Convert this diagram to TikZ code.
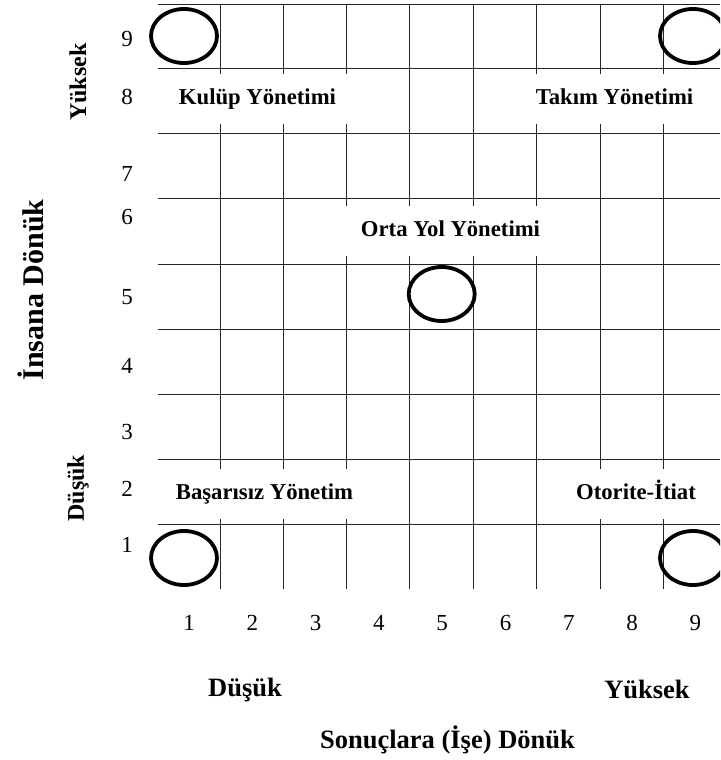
\documentclass[tikz,border=0pt]{standalone}
\usepackage{fontspec}
\setmainfont{Liberation Serif}
\usepackage{tikz}
\usetikzlibrary{positioning,shapes.geometric}

\begin{document}
\begin{tikzpicture}[
    x=1pt, y=-1pt,
    gridline/.style={line width=1.1pt, draw=black!85},
    label/.style={fill=white, inner xsep=20pt, inner ysep=0pt, text height=15pt, text depth=5pt,
                  minimum height=50pt, font=\fontsize{22.7}{27}\selectfont\bfseries},
    axis/.style={font=\fontsize{26.5}{31}\selectfont\bfseries},
    number/.style={font=\fontsize{23}{27}\selectfont},
    spot/.style={draw, ellipse, line width=3.8pt, minimum width=66pt, minimum height=54pt}
]
\clip (0,0) rectangle (720,760);

% Grid
\foreach \y in {4.5,68.5,133.5,198.5,264.5,329.5,394.5,459.5,524.5}
  \draw[gridline] (158,\y) -- (720,\y);
\foreach \x in {220.5,283.5,346.5,409.5,473.5,536.5,600.5,663.5}
  \draw[gridline] (\x,4.5) -- (\x,589);

% Styles of management
\node[label] (kulup) at (257.5,99) {Kulüp Yönetimi};
\node[label] (takim) at (614.5,99) {Takım Yönetimi};
\node[label] (orta) at (450.5,231) {Orta Yol Yönetimi};
\node[label] (basarisiz) at (264.5,494) {Başarısız Yönetim};
\node[label] (otorite) at (636,494) {Otorite-İtiat};

% Corner and centre points
\node[spot] (c19) at (184,36) {};
\node[spot] (c99) at (693,36) {};
\node[spot] (c55) at (441.7,294) {};
\node[spot] (c11) at (184,558) {};
\node[spot] (c91) at (693,558) {};

% Row numbers
\node[number] (r9) at (127,39) {9};
\node[number] (r8) at (127,97) {8};
\node[number] (r7) at (127,174) {7};
\node[number] (r6) at (127,217) {6};
\node[number] (r5) at (127,297) {5};
\node[number] (r4) at (127,366) {4};
\node[number] (r3) at (127,432) {3};
\node[number] (r2) at (127,489) {2};
\node[number] (r1) at (127,545) {1};

% Column numbers
\foreach \k in {1,...,9}
  \node[number] (col\k) at ({189+63.3*(\k-1)},623) {\k};

% Axis titles
\node[axis, rotate=90, font=\fontsize{24}{29}\selectfont\bfseries] (yhigh) at (78,82) {Yüksek};
\node[axis, rotate=90, font=\fontsize{24}{29}\selectfont\bfseries] (ylow) at (78,488) {Düşük};
\node[axis, rotate=90, font=\fontsize{30}{36}\selectfont\bfseries] (ytitle) at (31,290) {İnsana Dönük};
\node[axis] (xlow) at (245,690) {Düşük};
\node[axis] (xhigh) at (647,689) {Yüksek};
\node[axis] (xtitle) at (447.5,740) {Sonuçlara (İşe) Dönük};

\end{tikzpicture}
\end{document}
